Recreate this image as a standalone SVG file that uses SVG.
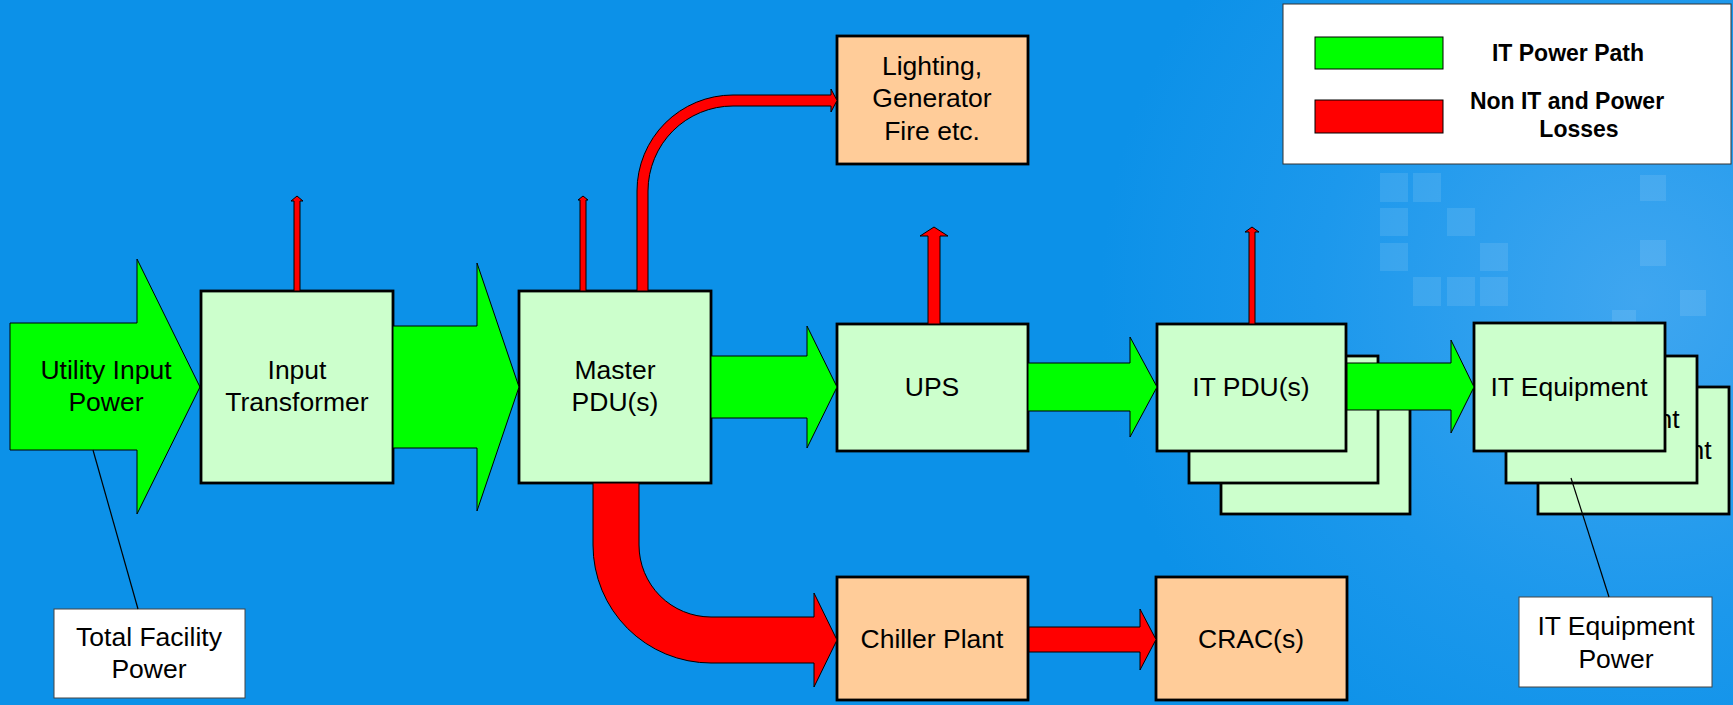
<svg xmlns="http://www.w3.org/2000/svg" width="1733" height="705" viewBox="0 0 1733 705">
<defs>
<radialGradient id="bgg" cx="1640" cy="300" r="540" gradientUnits="userSpaceOnUse">
<stop offset="0" stop-color="#3FA6F0"/>
<stop offset="0.6" stop-color="#1C98EC"/>
<stop offset="1" stop-color="#0C91E8"/>
</radialGradient>
<style>
.box{stroke:#000;stroke-width:2.8}
.it{fill:#CCFFCC}
.non{fill:#FFCC99}
.g{fill:#00FF00;stroke:#000;stroke-width:1}
.r{fill:#FF0000;stroke:#000;stroke-width:1}
.t{font-family:"Liberation Sans",Arial,sans-serif;font-size:26.5px;fill:#000;text-anchor:middle}
.lg{font-family:"Liberation Sans",Arial,sans-serif;font-size:23px;font-weight:bold;fill:#000;text-anchor:middle}
.call{fill:#fff;stroke:#444;stroke-width:1}
.sq{fill:#fff;fill-opacity:0.1}
</style>
</defs>
<rect width="1733" height="705" fill="#0C91E8"/>
<rect width="1733" height="705" fill="url(#bgg)"/>
<g id="bg-pattern">
<rect class="sq" x="1380" y="173" width="28" height="29"/>
<rect class="sq" x="1413" y="173" width="28" height="29"/>
<rect class="sq" x="1380" y="208" width="28" height="28"/>
<rect class="sq" x="1447" y="208" width="28" height="28"/>
<rect class="sq" x="1380" y="243" width="28" height="28"/>
<rect class="sq" x="1480" y="243" width="28" height="28"/>
<rect class="sq" x="1413" y="277" width="28" height="29"/>
<rect class="sq" x="1447" y="277" width="28" height="29"/>
<rect class="sq" x="1480" y="277" width="28" height="29"/>
<rect class="sq" x="1640" y="175" width="26" height="26"/>
<rect class="sq" x="1640" y="240" width="26" height="26"/>
<rect class="sq" x="1680" y="290" width="26" height="26"/>
<rect class="sq" x="1612" y="310" width="24" height="24"/>
</g>

<g id="legend">
<rect class="call" x="1283" y="4" width="448" height="160" style="stroke:#333"/>
<rect class="g" x="1315" y="37" width="128" height="32"/>
<rect class="r" x="1315" y="100" width="128" height="33"/>
<text class="lg" x="1568" y="61">IT Power Path</text>
<text class="lg" x="1567" y="109">Non IT and Power</text>
<text class="lg" x="1579" y="137">Losses</text>
</g>

<g id="utility-input-power">
<polygon class="g" points="10,323 137,323 137,259 200,387 137,514 137,450 10,450"/>
<text class="t" x="106" y="379">Utility Input</text>
<text class="t" x="106" y="411">Power</text>
</g>

<g id="input-transformer">
<rect class="box it" x="201" y="291" width="192" height="192"/>
<text class="t" x="297" y="379">Input</text>
<text class="t" x="297" y="411">Transformer</text>
</g>

<g id="master-pdu">
<rect class="box it" x="519" y="291" width="192" height="192"/>
<text class="t" x="615" y="379">Master</text>
<text class="t" x="615" y="411">PDU(s)</text>
</g>

<g id="lighting">
<rect class="box non" x="837" y="36" width="191" height="128"/>
<text class="t" x="932" y="75">Lighting,</text>
<text class="t" x="932" y="107">Generator</text>
<text class="t" x="932" y="140">Fire etc.</text>
</g>

<g id="ups">
<rect class="box it" x="837" y="324" width="191" height="127"/>
<text class="t" x="932" y="396">UPS</text>
</g>

<g id="it-pdu">
<rect class="box it" x="1221" y="387" width="189" height="127"/>
<rect class="box it" x="1189" y="356" width="189" height="127"/>
<rect class="box it" x="1157" y="324" width="189" height="127"/>
<text class="t" x="1251" y="396">IT PDU(s)</text>
</g>

<g id="it-equipment">
<rect class="box it" x="1538" y="387" width="191" height="127"/>
<text class="t" x="1633" y="459">IT Equipment</text>
<rect class="box it" x="1506" y="356" width="191" height="127"/>
<text class="t" x="1601" y="428">IT Equipment</text>
<rect class="box it" x="1474" y="323" width="191" height="128"/>
<text class="t" x="1569" y="396">IT Equipment</text>
</g>

<g id="chiller-plant">
<rect class="box non" x="837" y="577" width="191" height="123"/>
<text class="t" x="932" y="648">Chiller Plant</text>
</g>

<g id="crac">
<rect class="box non" x="1156" y="577" width="191" height="123"/>
<text class="t" x="1251" y="648">CRAC(s)</text>
</g>

<g id="total-facility-power">
<rect class="call" x="54" y="609" width="191" height="89"/>
<text class="t" x="149" y="646">Total Facility</text>
<text class="t" x="149" y="678">Power</text>
</g>

<g id="it-equipment-power">
<rect class="call" x="1519" y="597" width="193" height="90"/>
<text class="t" x="1616" y="635">IT Equipment</text>
<text class="t" x="1616" y="668">Power</text>
</g>

<g id="connectors">
<polygon class="g" points="393,326 477,326 477,263 519,387 477,511 477,448 393,448"/>
<polygon class="g" points="711,356 807,356 807,326 837,387 807,448 807,418 711,418"/>
<polygon class="g" points="1028,363 1130,363 1130,337 1157,387 1130,437 1130,411 1028,411"/>
<polygon class="g" points="1347,363 1451,363 1451,340 1474,387 1451,433 1451,410 1347,410"/>
<path class="r" d="M294,291 V201 H291 L297,196 L303,201 H300 V291 Z"/>
<path class="r" d="M580,291 V200 H578 L583,196 L588,200 H586 V291 Z"/>
<path class="r" d="M928,324 V236 H920 L934,227 L948,236 H940 V324 Z"/>
<path class="r" d="M1249,324 V232 H1245 L1252,227 L1259,232 H1255 V324 Z"/>
<path class="r" d="M637,291 V191 A96,96 0 0 1 733,95 H831 V89 L837,100.5 L831,112 V106 H733 A85,85 0 0 0 648,191 V291 Z"/>
<path class="r" d="M593,483 V545 A118,118 0 0 0 711,663 H814 V687 L837,640 L814,593 V617 H711 A72,72 0 0 1 639,545 V483 Z"/>
<path class="r" d="M1029,627 H1140 V609 L1156,639.5 L1140,670 V652 H1029 Z"/>
<line x1="93" y1="450" x2="138" y2="609" stroke="#000" stroke-width="1.2"/>
<line x1="1571" y1="478" x2="1609" y2="597" stroke="#000" stroke-width="1.2"/>
</g>
</svg>
